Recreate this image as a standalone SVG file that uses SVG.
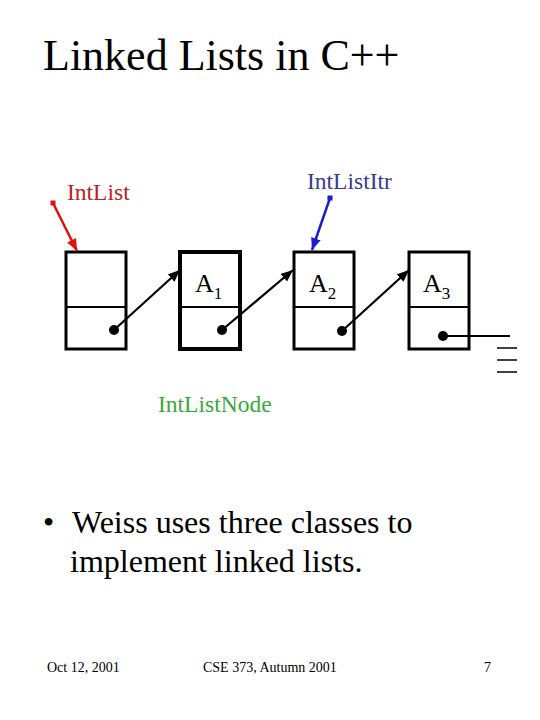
<svg xmlns="http://www.w3.org/2000/svg" width="540" height="720" viewBox="0 0 540 720">
<style>
text{font-family:"Liberation Serif","Times New Roman",serif;}
.box{fill:#fff;stroke:#000;stroke-width:3;}
.div{stroke:#000;stroke-width:2;}
.ptr{stroke:#000;stroke-width:2.2;fill:none;}
.dot{fill:#000;}
.a{font-size:26px;fill:#000;}
.sub{font-size:17px;fill:#000;}
.lbl{font-size:23.5px;}
</style>
<defs>
<marker id="ah" markerUnits="userSpaceOnUse" markerWidth="13" markerHeight="11" refX="12" refY="5" orient="auto"><path d="M0,0 L12,5 L0,10 z" fill="#000"/></marker>
<marker id="ahr" markerUnits="userSpaceOnUse" markerWidth="13" markerHeight="11" refX="12" refY="5" orient="auto"><path d="M0,0 L12,5 L0,10 z" fill="#e01010"/></marker>
<marker id="ahb" markerUnits="userSpaceOnUse" markerWidth="13" markerHeight="11" refX="12" refY="5" orient="auto"><path d="M0,0 L12,5 L0,10 z" fill="#1c1cd0"/></marker>
</defs>
<rect width="540" height="720" fill="#fff"/>
<text x="43" y="70" font-size="44">Linked Lists in C++</text>

<g id="node0">
<rect class="box" x="66" y="252" width="60" height="97"/>
<line class="div" x1="66" y1="307" x2="126" y2="307"/>
<circle class="dot" cx="114" cy="330" r="5"/>
</g>
<g id="node1">
<rect class="box" x="180" y="252" width="60" height="97" style="stroke-width:4"/>
<line class="div" x1="180" y1="307" x2="240" y2="307"/>
<text class="a" x="195" y="292">A<tspan class="sub" dy="7">1</tspan></text>
<circle class="dot" cx="222" cy="330" r="5"/>
</g>
<g id="node2">
<rect class="box" x="294" y="252" width="60" height="97"/>
<line class="div" x1="294" y1="307" x2="354" y2="307"/>
<text class="a" x="309" y="292">A<tspan class="sub" dy="7">2</tspan></text>
<circle class="dot" cx="342" cy="331" r="5"/>
</g>
<g id="node3">
<rect class="box" x="409" y="252" width="60" height="97"/>
<line class="div" x1="409" y1="307" x2="469" y2="307"/>
<text class="a" x="423" y="292">A<tspan class="sub" dy="7">3</tspan></text>
<circle class="dot" cx="443" cy="336" r="5"/>
</g>

<g id="intlist">
<text class="lbl" x="67" y="200" fill="#c02020">IntList</text>
<rect x="50.5" y="200.5" width="5" height="5" fill="#e01010"/>
</g>
<g id="intlistitr">
<text class="lbl" x="307" y="189" fill="#3a3a90">IntListItr</text>
<rect x="327.5" y="195.5" width="5" height="5" fill="#1c1cd0"/>
</g>
<g id="intlistnode">
<text class="lbl" x="158" y="412" fill="#3aa83a">IntListNode</text>
</g>
<g id="null">
<line x1="497" y1="348" x2="517" y2="348" stroke="#000" stroke-width="1.5"/>
<line x1="497" y1="360" x2="517" y2="360" stroke="#000" stroke-width="1.5"/>
<line x1="497" y1="372" x2="517" y2="372" stroke="#000" stroke-width="1.5"/>
</g>

<g id="connectors">
<line x1="53" y1="203" x2="77" y2="251" stroke="#e01010" stroke-width="2.5" marker-end="url(#ahr)"/>
<line x1="330" y1="198" x2="312" y2="250" stroke="#1c1cd0" stroke-width="2.5" marker-end="url(#ahb)"/>
<line class="ptr" x1="114" y1="330" x2="180" y2="270" marker-end="url(#ah)"/>
<line class="ptr" x1="222" y1="330" x2="293" y2="270" marker-end="url(#ah)"/>
<line class="ptr" x1="342" y1="331" x2="409" y2="270" marker-end="url(#ah)"/>
<line class="ptr" x1="443" y1="336" x2="510" y2="336"/>
</g>

<text x="43" y="533" font-size="32">•</text>
<text x="72" y="533" font-size="32">Weiss uses three classes to</text>
<text x="70" y="572" font-size="32">implement linked lists.</text>

<text x="47" y="672" font-size="14">Oct 12, 2001</text>
<text x="203" y="672" font-size="14">CSE 373, Autumn 2001</text>
<text x="484" y="672" font-size="14">7</text>
</svg>
